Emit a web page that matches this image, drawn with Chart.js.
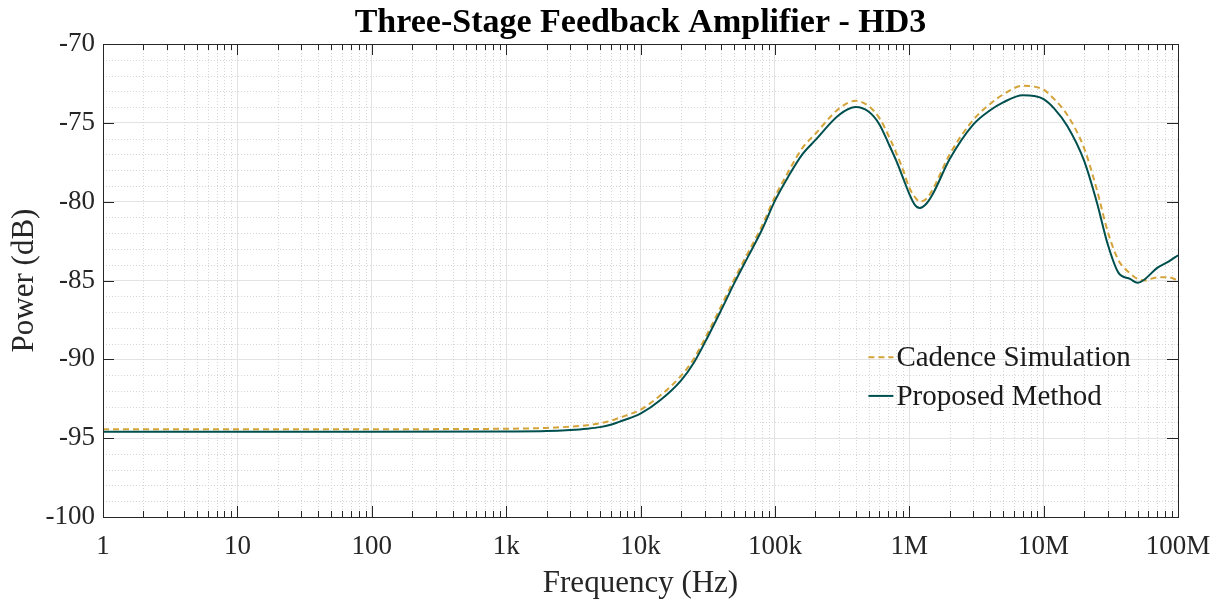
<!DOCTYPE html>
<html>
<head>
<meta charset="utf-8">
<title>Three-Stage Feedback Amplifier - HD3</title>
<script src="https://cdn.jsdelivr.net/npm/chart.js@4.4.1/dist/chart.umd.min.js"></script>
<style>
  body { margin: 0; background: #fff; }
  #wrap { width: 1216px; height: 601px; }
</style>
</head>
<body>
<div id="wrap"><canvas id="grafico" width="1216" height="601"></canvas></div>
<script>
// frequencias (Hz) e potencias (dB)
const frequencias = [1, 10, 100, 1e3, 2e3, 3e3, 4e3, 5e3, 6e3, 7e3, 8.5e3, 1e4, 1.4e4, 2e4, 2.5e4, 3.2e4, 4e4, 5e4, 6.3e4, 8e4,
  1e5, 1.26e5, 1.6e5, 2e5, 3e5, 4e5, 5e5, 6e5, 7e5, 8e5, 9e5, 1e6, 1.1e6, 1.2e6, 1.35e6, 1.5e6,
  2e6, 3e6, 4e6, 5e6, 7e6, 8.5e6, 1e7, 1.2e7, 1.5e7, 2e7, 2.5e7, 3e7, 3.6e7, 4.4e7, 5e7,
  5.6e7, 7e7, 8.5e7, 1e8];

const cadence = [-94.43, -94.43, -94.43, -94.4, -94.35, -94.27, -94.18, -94.05, -93.9, -93.7, -93.45, -93.2, -92.3, -91.05, -89.95, -88.25, -86.6, -84.9, -83.25, -81.55,
  -79.7, -78.1, -76.6, -75.7, -74.1, -73.6, -73.95, -74.7, -75.8, -76.9, -78.0, -79.1, -79.7, -80.0, -79.8, -79.2,
  -77.0, -74.8, -73.8, -73.2, -72.65, -72.7, -72.9, -73.5, -74.5, -76.6, -79.3, -81.9, -83.7, -84.55, -84.9,
  -85.0, -84.8, -84.8, -85.0];

const proposto = [-94.6, -94.6, -94.6, -94.58, -94.55, -94.48, -94.4, -94.3, -94.15, -93.95, -93.7, -93.45, -92.6, -91.35, -90.2, -88.5, -86.85, -85.15, -83.5, -81.8,
  -79.95, -78.4, -77.0, -76.1, -74.5, -74.0, -74.3, -75.1, -76.3, -77.4, -78.5, -79.5, -80.2, -80.4, -80.1, -79.5,
  -77.3, -75.1, -74.2, -73.7, -73.25, -73.3, -73.5, -74.1, -75.2, -77.4, -80.1, -82.7, -84.5, -84.9, -85.15,
  -84.95, -84.2, -83.8, -83.4];

const ticksX = [1, 10, 100, 1e3, 1e4, 1e5, 1e6, 1e7, 1e8];
const rotulosX = ['1', '10', '100', '1k', '10k', '100k', '1M', '10M', '100M'];
const nomes = ['Cadence Simulation', 'Proposed Method'];

const corCadence = '#d4a43a';
const corProposto = '#004f4f';
const fonte = '"Liberation Serif", "Times New Roman", serif';

const pontos = (ys) => frequencias.map((f, i) => ({x: f, y: ys[i]}));

// grade menor pontilhada, marcas internas e caixa (estilo matlab)
const moldura = {
  id: 'moldura',
  beforeDatasetsDraw(chart) {
    const {ctx, chartArea: a, scales: {x, y}} = chart;
    ctx.save();
    ctx.strokeStyle = '#d6d6d6';
    ctx.lineWidth = 1;
    ctx.setLineDash([1, 2]);
    ctx.beginPath();
    for (let d = 0; d < 8; d++) {
      for (let k = 2; k < 10; k++) {
        const px = Math.round(x.getPixelForValue(k * Math.pow(10, d))) + 0.5;
        ctx.moveTo(px, a.top); ctx.lineTo(px, a.bottom);
      }
    }
    for (let v = -99; v < -70; v++) {
      if (v % 5 === 0) continue;
      const py = Math.round(y.getPixelForValue(v)) + 0.5;
      ctx.moveTo(a.left, py); ctx.lineTo(a.right, py);
    }
    ctx.stroke();
    ctx.restore();
  },
  afterDatasetsDraw(chart) {
    const {ctx, chartArea: a, scales: {x, y}} = chart;
    ctx.save();
    ctx.strokeStyle = '#262626';
    ctx.lineWidth = 1;
    ctx.beginPath();
    for (let d = 0; d < 8; d++) {
      for (let k = 1; k < 10; k++) {
        const px = Math.round(x.getPixelForValue(k * Math.pow(10, d))) + 0.5;
        const len = k === 1 ? 11 : 6;
        ctx.moveTo(px, a.bottom); ctx.lineTo(px, a.bottom - len);
        ctx.moveTo(px, a.top); ctx.lineTo(px, a.top + len);
      }
    }
    for (let v = -95; v <= -75; v += 5) {
      const py = Math.round(y.getPixelForValue(v)) + 0.5;
      ctx.moveTo(a.left, py); ctx.lineTo(a.left + 11, py);
      ctx.moveTo(a.right, py); ctx.lineTo(a.right - 11, py);
    }
    ctx.stroke();
    ctx.strokeRect(Math.round(a.left) + 0.5, Math.round(a.top) + 0.5,
      Math.round(a.right - a.left), Math.round(a.bottom - a.top));

    // legenda dentro do grafico
    const ds = chart.data.datasets;
    const lx = a.left + 0.712 * (a.right - a.left);
    const lys = [a.top + 0.662 * (a.bottom - a.top), a.top + 0.744 * (a.bottom - a.top)];
    ctx.font = '29px ' + fonte;
    ctx.textBaseline = 'middle';
    ctx.fillStyle = '#1a1a1a';
    ds.forEach((d, i) => {
      ctx.strokeStyle = d.borderColor;
      ctx.lineWidth = 2;
      ctx.setLineDash(d.borderDash || []);
      ctx.beginPath();
      ctx.moveTo(lx, lys[i]); ctx.lineTo(lx + 25, lys[i]);
      ctx.stroke();
      ctx.fillText(d.label, lx + 28, lys[i] + 1);
    });
    ctx.restore();
  }
};

new Chart(document.getElementById('grafico'), {
  type: 'line',
  data: {
    datasets: [{
      label: nomes[0],
      data: pontos(cadence),
      borderColor: corCadence,
      borderWidth: 2,
      borderDash: [6, 4],
      pointRadius: 0,
      cubicInterpolationMode: 'monotone',
      order: 1
    }, {
      label: nomes[1],
      data: pontos(proposto),
      borderColor: corProposto,
      borderWidth: 2,
      pointRadius: 0,
      cubicInterpolationMode: 'monotone',
      order: 0
    }]
  },
  options: {
    responsive: false,
    animation: false,
    layout: { padding: { right: 38, left: 0, top: 0, bottom: 0 } },
    plugins: {
      legend: { display: false },
      tooltip: { enabled: false },
      title: {
        display: true,
        fullSize: false,
        text: 'Three-Stage Feedback Amplifier - HD3',
        color: '#000',
        font: { family: fonte, size: 34, weight: 'bold', lineHeight: 1 },
        padding: { top: 6, bottom: 4 }
      }
    },
    scales: {
      x: {
        type: 'logarithmic',
        min: 1,
        max: 1e8,
        afterBuildTicks: (s) => { s.ticks = ticksX.map(v => ({value: v})); },
        afterFit: (s) => { s.height = 84; s.paddingRight = 0; s.paddingLeft = 0; },
        ticks: {
          autoSkip: false,
          maxRotation: 0,
          padding: 14,
          color: '#262626',
          font: { family: fonte, size: 27 },
          callback: (v, i) => rotulosX[i]
        },
        grid: { color: '#e3e3e3', lineWidth: 1, drawTicks: false },
        border: { display: false },
        title: {
          display: true,
          text: 'Frequency (Hz)',
          color: '#262626',
          font: { family: fonte, size: 31, lineHeight: 1 },
          padding: { top: 0, bottom: 2 }
        }
      },
      y: {
        min: -100,
        max: -70,
        afterFit: (s) => { s.width = 103; },
        ticks: {
          stepSize: 5,
          padding: 8,
          color: '#262626',
          font: { family: fonte, size: 27 }
        },
        grid: { color: '#e3e3e3', lineWidth: 1, drawTicks: false },
        border: { display: false },
        title: {
          display: true,
          text: 'Power (dB)',
          color: '#262626',
          font: { family: fonte, size: 31, lineHeight: 1 },
          padding: { top: 9, bottom: 0 }
        }
      }
    }
  },
  plugins: [moldura]
});
</script>
</body>
</html>
